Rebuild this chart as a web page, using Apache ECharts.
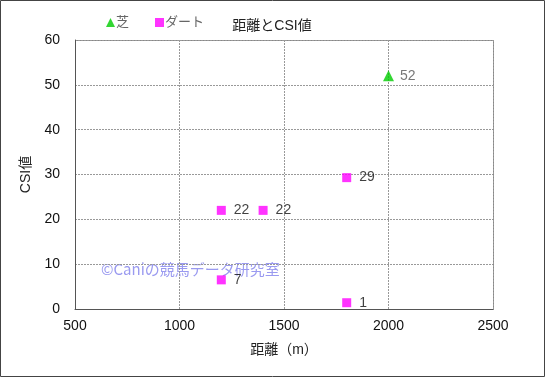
<!DOCTYPE html>
<html>
<head>
<meta charset="utf-8">
<script src="https://cdn.jsdelivr.net/npm/echarts@6/dist/echarts.min.js"></script>
<style>
  html, body { margin: 0; padding: 0; background: #fff; }
  #chart { width: 545px; height: 377px; }
</style>
</head>
<body>
<div id="chart"></div>
<script>
// 芝
const turfPoints = [[2000, 52]]
// ダート
const dirtPoints = [[1200, 22], [1400, 22], [1800, 29.3], [1200, 6.5], [1800, 1.4]]
const xTicks = [500, 1000, 1500, 2000, 2500]
const yTicks = [0, 10, 20, 30, 40, 50, 60]

const font = '"Liberation Sans", "Noto Sans CJK JP", sans-serif'
const chart = echarts.init(document.getElementById('chart'))

const labelFmt = p => Math.round(p.value[1])

chart.setOption({
  animation: false,
  textStyle: {fontFamily: font},
  title: {
    text: '距離とCSI値',
    left: 267, top: 14,
    textAlign: 'center',
    textStyle: {fontSize: 14, fontWeight: 'normal', color: '#222', fontFamily: font},
  },
  legend: {
    left: 101, top: 11,
    itemWidth: 9, itemHeight: 9, itemGap: 26,
    textStyle: {fontSize: 13, color: '#666', padding: [0, 0, 0, -4]},
    data: [
      {name: '芝', icon: 'triangle'},
      {name: 'ダート', icon: 'rect'},
    ],
  },
  grid: {left: 75, right: 52, top: 40, bottom: 68},
  xAxis: {
    type: 'value',
    min: xTicks[0], max: xTicks[xTicks.length - 1], interval: 500,
    name: '距離（m）', nameLocation: 'middle', nameGap: 34,
    nameTextStyle: {fontSize: 14, color: '#222'},
    axisLine: {lineStyle: {color: '#555'}},
    axisTick: {show: false},
    axisLabel: {fontSize: 14, color: '#111', margin: 10, formatter: v => String(v)},
    splitLine: {lineStyle: {color: '#999', type: [2, 1]}},
  },
  yAxis: {
    type: 'value',
    min: yTicks[0], max: yTicks[yTicks.length - 1], interval: 10,
    name: 'CSI値', nameLocation: 'middle', nameGap: 41,
    nameTextStyle: {fontSize: 14, color: '#222'},
    axisLine: {show: true, lineStyle: {color: '#555'}},
    axisTick: {show: false},
    axisLabel: {fontSize: 14, color: '#111', margin: 15},
    splitLine: {lineStyle: {color: '#999', type: [2, 1]}},
  },
  graphic: [
    {
      type: 'rect', silent: true,
      shape: {x: 0.5, y: 0.5, width: 544, height: 376},
      style: {fill: 'none', stroke: '#444', lineWidth: 1},
    },
    {
      type: 'rect', silent: true,
      shape: {x: 75.5, y: 40.5, width: 418, height: 269},
      style: {fill: 'none', stroke: '#888', lineWidth: 1},
    },
    {
      type: 'text', silent: true, left: 101, top: 262,
      style: {text: '©Caniの競馬データ研究室', fill: '#9a9af0', font: '15px "Noto Sans CJK JP", sans-serif'},
    },
  ],
  series: [
    {
      name: '芝', type: 'scatter', data: turfPoints,
      symbol: 'triangle', symbolSize: 11,
      itemStyle: {color: '#00cc00'},
      label: {show: true, position: 'right', distance: 6, formatter: labelFmt, fontSize: 14, color: '#555'},
    },
    {
      name: 'ダート', type: 'scatter', data: dirtPoints,
      symbol: 'rect', symbolSize: 9,
      itemStyle: {color: '#ff00ff'},
      label: {show: true, position: 'right', distance: 8, formatter: labelFmt, fontSize: 14, color: '#111'},
    },
  ],
})
</script>
</body>
</html>
